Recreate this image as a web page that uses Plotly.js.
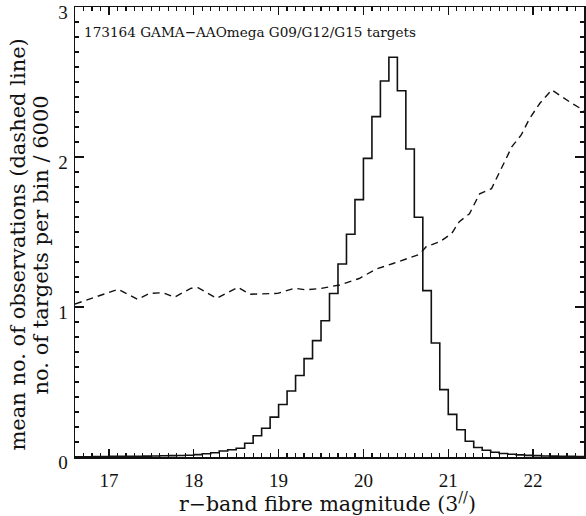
<!DOCTYPE html>
<html>
<head>
<meta charset="utf-8">
<script src="https://cdn.plot.ly/plotly-3.0.1.min.js"></script>
<style>html,body{margin:0;padding:0;background:#fff;}#chart{width:586px;height:516px;}</style>
</head>
<body>
<div id="chart"></div>
<script>
// Histogram bins (left edges, width 0.1 mag) and heights (no. per bin / 6000)
const binStart = [16.6,16.7,16.8,16.9,17.0,17.1,17.2,17.3,17.4,17.5,17.6,17.7,17.8,17.9,18.0,18.1,18.2,18.3,18.4,18.5,
  18.6,18.7,18.8,18.9,19.0,19.1,19.2,19.3,19.4,19.5,19.6,19.7,19.8,19.9,20.0,20.1,20.2,20.3,20.4,20.5,
  20.6,20.7,20.8,20.9,21.0,21.1,21.2,21.3,21.4,21.5,21.6,21.7,21.8,21.9,22.0,22.1,22.2,22.3,22.4,22.5];
const binWidth = 0.1;
const counts = [0.002,0.002,0.003,0.003,0.004,0.004,0.005,0.005,0.006,0.007,0.008,0.009,0.010,0.012,0.016,0.022,0.028,0.040,0.048,0.058,
  0.092,0.142,0.192,0.266,0.350,0.440,0.543,0.656,0.776,0.908,1.090,1.287,1.485,1.716,1.991,2.269,2.507,2.665,2.442,2.053,
  1.598,1.109,0.760,0.449,0.284,0.182,0.105,0.063,0.045,0.032,0.023,0.018,0.014,0.011,0.009,0.007,0.006,0.005,0.004,0.003];

// Mean number of observations (dashed line)
const obsMag = [16.6,17.11,17.34,17.48,17.64,17.77,17.97,18.05,18.27,18.52,18.66,18.99,19.19,19.31,19.48,19.72,19.95,20.15,20.35,20.51,
  20.66,20.74,20.90,21.04,21.13,21.25,21.37,21.51,21.63,21.75,21.86,21.96,22.08,22.22,22.47,22.6];
const obsMean = [1.02,1.118,1.051,1.091,1.095,1.065,1.125,1.129,1.058,1.131,1.085,1.091,1.125,1.115,1.122,1.147,1.19,1.253,1.29,1.32,
  1.351,1.402,1.435,1.49,1.569,1.622,1.755,1.789,1.925,2.069,2.147,2.258,2.358,2.447,2.353,2.31];

const xTicks = [17,18,19,20,21,22];
const yTicks = [0,1,2,3];

const labelText = "173164 GAMA\u2212AAOmega G09/G12/G15 targets";
const xTitle = "r\u2212band fibre magnitude (3<sup>//</sup>)";
const yTitle1 = "mean no. of observations (dashed line)";
const yTitle2 = "no. of targets per bin / 6000";

// build step outline from bins
const stepX = binStart.concat([binStart[binStart.length-1] + binWidth]);
const stepY = counts.concat([counts[counts.length-1]]);

const FONT = "DejaVu Serif";
const TICKFONT = "Liberation Serif";

const traces = [
  {x: stepX, y: stepY, type: "scatter", mode: "lines",
   line: {shape: "hv", color: "#111", width: 1.6}, hoverinfo: "skip"},
  {x: obsMag, y: obsMean, type: "scatter", mode: "lines",
   line: {color: "#111", width: 1.4, dash: "7px,5px"}, hoverinfo: "skip"}
];

const axisCommon = {
  showline: true, linecolor: "#111", linewidth: 1.5, mirror: "allticks",
  ticks: "inside", tickcolor: "#111", tickwidth: 1.3, automargin: false,
  showgrid: false, zeroline: false, ticklabeloverflow: "allow",
  tickfont: {family: TICKFONT, size: 19, color: "#111"}
};

const layout = {
  width: 586, height: 516,
  margin: {l: 75, r: 2, t: 7, b: 59, autoexpand: false},
  paper_bgcolor: "#fff", plot_bgcolor: "#fff",
  showlegend: false,
  xaxis: Object.assign({}, axisCommon, {
    range: [16.6, 22.6], tickmode: "array", tickvals: xTicks, ticktext: xTicks.map(String),
    ticklen: 8, ticklabelstandoff: 6,
    minor: {dtick: 0.1, tick0: 0, ticks: "inside", ticklen: 4, tickcolor: "#111", tickwidth: 1.2}
  }),
  yaxis: Object.assign({}, axisCommon, {
    range: [0, 3], tickmode: "array", tickvals: yTicks, ticktext: yTicks.map(String),
    ticklen: 9, ticklabelstandoff: 2, ticklabelshift: 5,
    minor: {dtick: 0.1, tick0: 0, ticks: "inside", ticklen: 4, tickcolor: "#111", tickwidth: 1.2}
  }),
  annotations: [
    {text: labelText, xref: "paper", yref: "paper", x: 0.013, y: 0.944, xanchor: "left", yanchor: "middle",
     showarrow: false, font: {family: FONT, size: 13.6, color: "#111"}},
    {text: xTitle, xref: "paper", yref: "paper", x: 0.497, y: -0.1, xanchor: "center", yanchor: "middle",
     showarrow: false, font: {family: FONT, size: 20.5, color: "#111"}},
    {text: yTitle1, xref: "paper", yref: "paper", x: -0.112, y: 0.472, xanchor: "center", yanchor: "middle",
     textangle: -90, showarrow: false, font: {family: FONT, size: 21, color: "#111"}},
    {text: yTitle2, xref: "paper", yref: "paper", x: -0.067, y: 0.472, xanchor: "center", yanchor: "middle",
     textangle: -90, showarrow: false, font: {family: FONT, size: 21, color: "#111"}}
  ]
};

Plotly.newPlot("chart", traces, layout, {staticPlot: true, displayModeBar: false});
</script>
</body>
</html>
